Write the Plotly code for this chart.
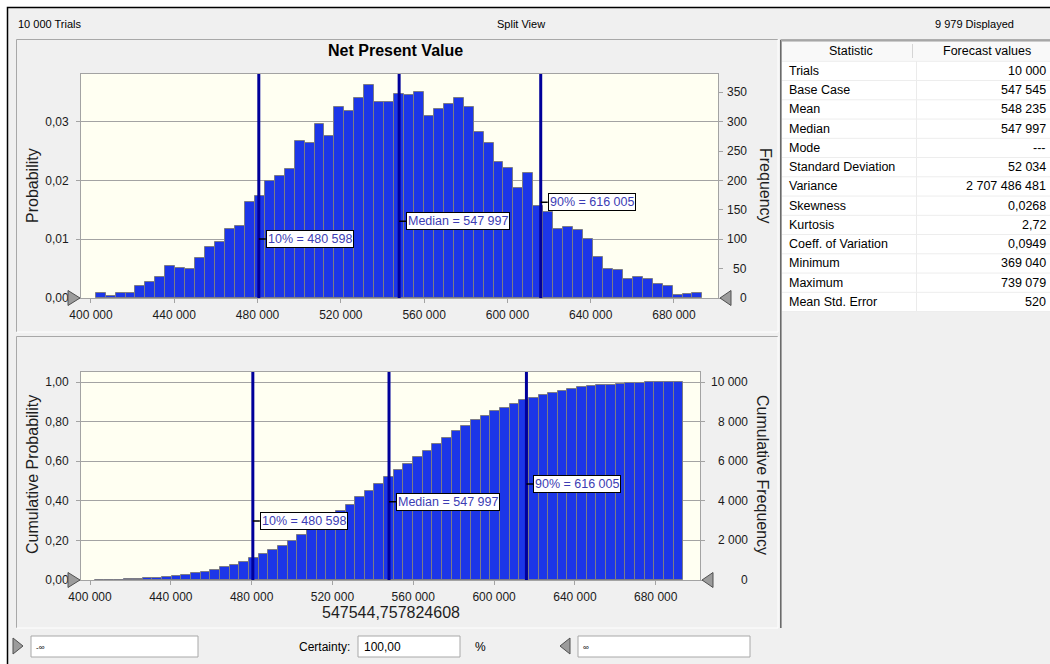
import plotly.graph_objects as go

# ---------------- data ----------------
TRIALS = 10000
DISPLAYED = 9979
VIEW_NAME = "Split View"
CHART_TITLE = "Net Present Value"
BASE_VALUE_LABEL = "547544,757824608"

BIN_START = 402256
BIN_WIDTH = 4777
FREQ = [9, 3, 9, 9, 20, 28, 36, 55, 51, 49,
        68, 86, 96, 118, 123, 163, 173, 199, 208, 220,
        268, 264, 297, 275, 326, 318, 341, 363, 333, 333,
        347, 345, 351, 310, 321, 331, 341, 326, 283, 264,
        231, 221, 188, 212, 157, 146, 117, 121, 115, 101,
        70, 50, 47, 32, 36, 32, 23, 20, 5, 7, 9]

PCT_NAMES = ["10%", "Median", "90%"]
PCT_VALUES = [480598, 547997, 616005]

X_TICKS = [400000, 440000, 480000, 520000, 560000, 600000, 640000, 680000]
PROB_TICKS = [0, 0.01, 0.02, 0.03]
FREQ_TICKS = [0, 50, 100, 150, 200, 250, 300, 350]
CUMPROB_TICKS = [0, 0.2, 0.4, 0.6, 0.8, 1.0]
CUMFREQ_TICKS = [0, 2000, 4000, 6000, 8000, 10000]

STAT_HEADERS = ["Statistic", "Forecast values"]
STAT_NAMES = ["Trials", "Base Case", "Mean", "Median", "Mode", "Standard Deviation",
              "Variance", "Skewness", "Kurtosis", "Coeff. of Variation", "Minimum",
              "Maximum", "Mean Std. Error"]
STAT_VALUES = ["10 000", "547 545", "548 235", "547 997", "---", "52 034",
               "2 707 486 481", "0,0268", "2,72", "0,0949", "369 040",
               "739 079", "520"]

CERTAINTY = "100,00"
LOWER_BOUND = "-\u221e"
UPPER_BOUND = "\u221e"

# ---------------- helpers ----------------
W, H = 1050, 664
FONT = "Liberation Sans, Arial, sans-serif"


def px(x):
    return x / W


def py(y):
    return 1 - y / H


def spaced(n):
    return f"{n:,}".replace(",", " ")


centers = [BIN_START + BIN_WIDTH * (i + 0.5) for i in range(len(FREQ))]
prob = [f / TRIALS for f in FREQ]
cum = []
running = 0
for f in FREQ:
    running += f
    cum.append(running)
cumprob = [c / TRIALS for c in cum]

BAR_COLOR = "#1C36E8"
BAR_LINE = "#7C7C86"
LINE_COLOR = "#00009A"
GRID = "#A3A3A3"
TICKCOLOR = "#1a1a1a"
TICKFONT = dict(size=12, color=TICKCOLOR, family=FONT)

fig = go.Figure()
fig.add_trace(go.Bar(x=centers, y=prob, width=BIN_WIDTH, xaxis="x", yaxis="y",
                     marker=dict(color=BAR_COLOR, line=dict(color=BAR_LINE, width=1)),
                     hoverinfo="skip", showlegend=False))
fig.add_trace(go.Scatter(x=centers, y=FREQ, xaxis="x", yaxis="y2", mode="markers",
                         marker=dict(opacity=0), hoverinfo="skip", showlegend=False))
fig.add_trace(go.Bar(x=centers, y=cumprob, width=BIN_WIDTH, xaxis="x3", yaxis="y3",
                     marker=dict(color=BAR_COLOR, line=dict(color=BAR_LINE, width=1)),
                     hoverinfo="skip", showlegend=False))
fig.add_trace(go.Scatter(x=centers, y=cum, xaxis="x3", yaxis="y4", mode="markers",
                         marker=dict(opacity=0), hoverinfo="skip", showlegend=False))

TOP_X = [px(81), px(718)]
TOP_Y = [py(298), py(74)]
BOT_X = [px(81), px(700)]
BOT_Y = [py(580), py(372)]

xcommon = dict(tickvals=X_TICKS, tickformat=",d", ticks="outside", ticklen=4,
               tickcolor=GRID, showline=True, linecolor=GRID, linewidth=1, mirror=True,
               showgrid=False, zeroline=False, tickfont=TICKFONT, ticklabelstandoff=2,
               fixedrange=True, automargin=False)
ycommon = dict(ticks="outside", ticklen=4, tickcolor=GRID, zeroline=False,
               tickfont=TICKFONT, ticklabelstandoff=5, fixedrange=True, automargin=False)

fig.update_layout(
    template="none",
    width=W, height=H, margin=dict(l=0, r=0, t=0, b=0, pad=0), autosize=False,
    paper_bgcolor="#F0F0F0", plot_bgcolor="#FFFFF2",
    separators=", ", bargap=0, showlegend=False,
    font=dict(family=FONT, color="#000000"),
    xaxis=dict(domain=TOP_X, range=[395200, 701150], anchor="y", **xcommon),
    yaxis=dict(domain=TOP_Y, range=[0, 0.03814], anchor="x", tickvals=PROB_TICKS,
               tickformat=".2f", showgrid=True, gridcolor=GRID, gridwidth=1,
               showline=True, linecolor=GRID, mirror=True, **ycommon),
    yaxis2=dict(overlaying="y", side="right", range=[0, 381.4], anchor="x",
                tickvals=FREQ_TICKS, showticklabels=False, showgrid=False,
                showline=False, **ycommon),
    xaxis3=dict(domain=BOT_X, range=[395545, 701920], anchor="y3", **xcommon),
    yaxis3=dict(domain=BOT_Y, range=[0, 1.0506], anchor="x3", tickvals=CUMPROB_TICKS,
                tickformat=".2f", showgrid=True, gridcolor=GRID, gridwidth=1,
                showline=True, linecolor=GRID, mirror=True, **ycommon),
    yaxis4=dict(overlaying="y3", side="right", range=[0, 10506], anchor="x3",
                tickvals=CUMFREQ_TICKS, showticklabels=False, showgrid=False,
                showline=False, **ycommon),
)

shapes = []
ann = []

# window frame
shapes.append(dict(type="rect", xref="paper", yref="paper", x0=0, x1=1, y0=py(7), y1=1,
                   fillcolor="white", line=dict(width=0), layer="below"))
shapes.append(dict(type="rect", xref="paper", yref="paper", x0=0, x1=px(7), y0=0, y1=1,
                   fillcolor="white", line=dict(width=0), layer="below"))
shapes.append(dict(type="path", xref="paper", yref="paper",
                   path=f"M {px(7.5)},0 L {px(7.5)},{py(7.5)} L 1,{py(7.5)}",
                   line=dict(color="#000000", width=1.5)))


def etched(x0, y0, x1, y1):
    shapes.append(dict(type="path", xref="paper", yref="paper",
                       path=f"M {px(x0)},{py(y1)} L {px(x0)},{py(y0)} L {px(x1)},{py(y0)}",
                       line=dict(color="#A8A8A8", width=1)))
    shapes.append(dict(type="path", xref="paper", yref="paper",
                       path=f"M {px(x0)},{py(y1)} L {px(x1)},{py(y1)} L {px(x1)},{py(y0)}",
                       line=dict(color="#FFFFFF", width=1)))


etched(16.5, 39.5, 778, 332)
etched(16.5, 336.5, 778, 628)

# table panel
shapes.append(dict(type="path", xref="paper", yref="paper",
                   path=f"M {px(780.5)},{py(628)} L {px(780.5)},{py(40)} L 1,{py(40)}",
                   line=dict(color="#6A6A6A", width=1)))
shapes.append(dict(type="path", xref="paper", yref="paper",
                   path=f"M {px(781.5)},{py(628)} L {px(781.5)},{py(41)} L 1,{py(41)}",
                   line=dict(color="#A0A0A0", width=1)))
ROW_TOP = 61.3
ROW_H = 19.25
table_bottom = ROW_TOP + ROW_H * len(STAT_NAMES)
shapes.append(dict(type="rect", xref="paper", yref="paper", x0=px(782), x1=1,
                   y0=py(table_bottom), y1=py(41.5), fillcolor="#FFFFFF",
                   line=dict(width=0), layer="below"))
shapes.append(dict(type="rect", xref="paper", yref="paper", x0=px(782), x1=1,
                   y0=py(61), y1=py(41.5), fillcolor="#F9F9F9",
                   line=dict(width=0), layer="below"))
shapes.append(dict(type="line", xref="paper", yref="paper", x0=px(912.5), x1=px(912.5),
                   y0=py(44), y1=py(58), line=dict(color="#D5D5D5", width=1)))
shapes.append(dict(type="line", xref="paper", yref="paper", x0=px(916.5), x1=px(916.5),
                   y0=py(table_bottom), y1=py(61), line=dict(color="#EBEBEB", width=1)))
for i in range(len(STAT_NAMES) + 1):
    yy = ROW_TOP + ROW_H * i
    shapes.append(dict(type="line", xref="paper", yref="paper", x0=px(782), x1=1,
                       y0=py(yy), y1=py(yy), line=dict(color="#EDEDED", width=1)))

# percentile lines
for xa, ya in (("x", "y"), ("x3", "y3")):
    for v in PCT_VALUES:
        shapes.append(dict(type="line", xref=xa, yref=f"{ya} domain", x0=v, x1=v, y0=0, y1=1,
                           line=dict(color=LINE_COLOR, width=3), layer="above"))


def tri(xanchor, yanchor, direction):
    if direction == "right":
        path = "M -13,7.5 L -1,0 L -13,-7.5 Z"
    else:
        path = "M 13,7.5 L 2,0 L 13,-7.5 Z"
    shapes.append(dict(type="path", xref="paper", yref="paper", xsizemode="pixel",
                       ysizemode="pixel", xanchor=xanchor, yanchor=yanchor, path=path,
                       fillcolor="#9C9C9C", line=dict(color="#505050", width=1),
                       layer="above"))


# certainty grabbers at the ends of each x axis
tri(TOP_X[0], TOP_Y[0], "right")
tri(TOP_X[1], TOP_Y[0], "left")
tri(BOT_X[0], BOT_Y[0], "right")
tri(BOT_X[1], BOT_Y[0], "left")

# footer controls
shapes.append(dict(type="path", xref="paper", yref="paper",
                   path=f"M {px(13)},{py(638)} L {px(23)},{py(646)} L {px(13)},{py(654)} Z",
                   fillcolor="#9C9C9C", line=dict(color="#505050", width=1)))
shapes.append(dict(type="path", xref="paper", yref="paper",
                   path=f"M {px(570)},{py(638)} L {px(560)},{py(646)} L {px(570)},{py(654)} Z",
                   fillcolor="#9C9C9C", line=dict(color="#505050", width=1)))
for x0, x1 in ((31, 198), (358, 460), (578, 750)):
    shapes.append(dict(type="rect", xref="paper", yref="paper", x0=px(x0), x1=px(x1),
                       y0=py(657), y1=py(636), fillcolor="#FFFFFF",
                       line=dict(color="#A8A8A8", width=1)))


def text(t, x, y, size=12, anchor="left", color="#000000", angle=0, yanchor="middle"):
    ann.append(dict(text=t, x=px(x), y=py(y), xref="paper", yref="paper", showarrow=False,
                    xanchor=anchor, yanchor=yanchor, textangle=angle,
                    font=dict(size=size, color=color, family=FONT)))


# right-axis tick labels (right-aligned, as in the original)
for v in FREQ_TICKS:
    ann.append(dict(text=spaced(v), x=px(748.5), y=v, xref="paper", yref="y2",
                    showarrow=False, xanchor="right", yanchor="middle",
                    font=TICKFONT))
for v in CUMFREQ_TICKS:
    ann.append(dict(text=spaced(v), x=px(750), y=v, xref="paper", yref="y4",
                    showarrow=False, xanchor="right", yanchor="middle",
                    font=TICKFONT))

# header
text(f"{spaced(TRIALS)} Trials", 16, 24, size=11)
text(VIEW_NAME, 521, 24, size=11, anchor="center")
text(f"{spaced(DISPLAYED)} Displayed", 933, 24, size=11)

# titles
text(f"<b>{CHART_TITLE}</b>", 395, 51, size=16, anchor="center")
text("Probability", 33, 186, size=16, anchor="center", color="#1e1e1e", angle=-90)
text("Frequency", 765, 186, size=16, anchor="center", color="#1e1e1e", angle=90)
text("Cumulative Probability", 32, 475, size=16, anchor="center", color="#1e1e1e", angle=-90)
text("Cumulative Frequency", 763, 475, size=16, anchor="center", color="#1e1e1e", angle=90)
text(BASE_VALUE_LABEL, 391, 612, size=16, anchor="center", color="#1e1e1e")

# table
text(STAT_HEADERS[0], 851, 51, size=12.5, anchor="center")
text(STAT_HEADERS[1], 987, 51, size=12.5, anchor="center")
for i, (n, v) in enumerate(zip(STAT_NAMES, STAT_VALUES)):
    yc = ROW_TOP + ROW_H * (i + 0.5)
    text(n, 787, yc, size=12.5)
    text(v, 1048, yc, size=12.5, anchor="right")

# footer
text(LOWER_BOUND, 34, 647, size=8)
text("Certainty:", 352, 647, size=12, anchor="right")
text(CERTAINTY, 362, 647, size=12)
text("%", 473, 647, size=12)
text(UPPER_BOUND, 581, 647, size=8)

# percentile labels
TOP_LABEL_Y = [0.263, 0.343, 0.428]
BOT_LABEL_Y = [0.284, 0.376, 0.462]
for xa, ya, ys in (("x", "y", TOP_LABEL_Y), ("x3", "y3", BOT_LABEL_Y)):
    for name, v, yy in zip(PCT_NAMES, PCT_VALUES, ys):
        ann.append(dict(text=f"{name} = {spaced(v)}", x=v, y=yy, xref=xa,
                        yref=f"{ya} domain", showarrow=True, ax=7, ay=0,
                        xanchor="left", yanchor="middle", arrowhead=0, arrowwidth=1.5,
                        arrowcolor="#000000", bgcolor="#FFFFFF", bordercolor="#000000",
                        borderwidth=1, borderpad=1,
                        font=dict(size=12.5, color="#3C3CB4", family=FONT)))

fig.update_layout(shapes=shapes, annotations=ann)
fig.write_html("out.html", config={"displayModeBar": False},
               post_script="document.documentElement.style.margin='0';"
                           "document.body.style.margin='0';"
                           "document.body.style.overflow='hidden';")
